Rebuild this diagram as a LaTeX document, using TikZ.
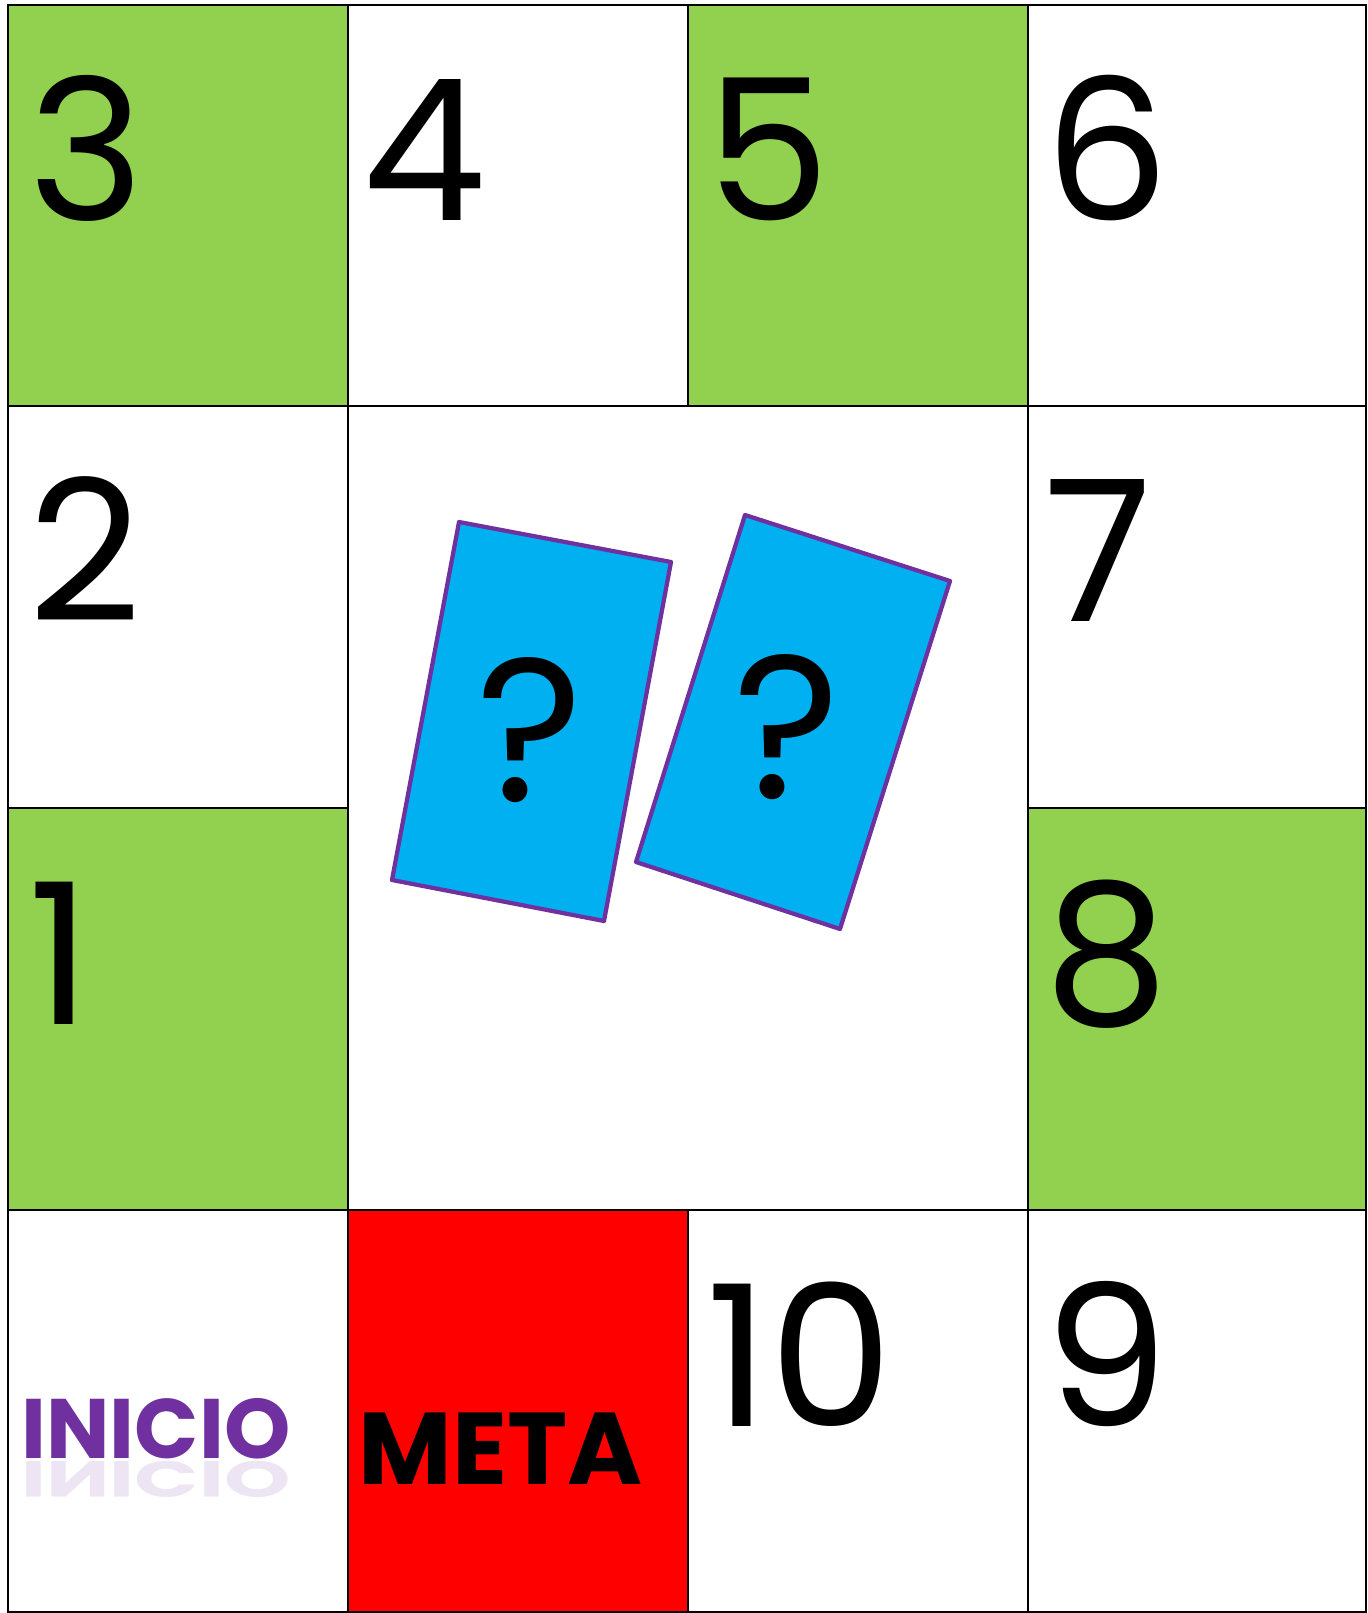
\documentclass[tikz,border=0pt]{standalone}
\usepackage{fontspec}
\setmainfont{Poppins}
\definecolor{verde}{HTML}{92D050}
\definecolor{rojo}{HTML}{FF0000}
\definecolor{celeste}{HTML}{00B0F0}
\definecolor{morado}{HTML}{7030A0}
\tikzset{
  cell/.style={draw=black, line width=0.7pt},
  num/.style={anchor=base west, inner sep=0pt, font=\fontsize{56}{56}\selectfont},
  card/.style={draw=morado, fill=celeste, line width=1.2pt, line join=round},
  quest/.style={inner sep=0pt, font=\fontsize{58}{58}\selectfont}
}
\begin{document}
\begin{tikzpicture}[x=0.01cm, y=-0.01cm]
	\useasboundingbox (0,0) rectangle (1367,1613);
	% row 1
	\draw[cell, fill=verde] (8,5) rectangle (348,406);
	\draw[cell, fill=white] (348,5) rectangle (688,406);
	\draw[cell, fill=verde] (688,5) rectangle (1028,406);
	\draw[cell, fill=white] (1028,5) rectangle (1366,406);
	% rows 2 and 3
	\draw[cell, fill=white] (8,406) rectangle (348,808);
	\draw[cell, fill=white] (348,406) rectangle (1028,1210);
	\draw[cell, fill=white] (1028,406) rectangle (1366,808);
	\draw[cell, fill=verde] (8,808) rectangle (348,1210);
	\draw[cell, fill=verde] (1028,808) rectangle (1366,1210);
	% row 4
	\draw[cell, fill=white] (8,1210) rectangle (348,1612);
	\draw[cell, fill=rojo] (348,1210) rectangle (688,1612);
	\draw[cell, fill=white] (688,1210) rectangle (1028,1612);
	\draw[cell, fill=white] (1028,1210) rectangle (1366,1612);
	% numbers
	\node[num] (n3) at (28,221) {3};
	\node[num] (n4) at (362,221) {4};
	\node[num] (n5) at (706,221) {5};
	\node[num] (n6) at (1044,221) {6};
	\node[num] (n2) at (28,622) {2};
	\node[num] (n7) at (1044,622) {7};
	\node[num] (n1) at (28,1024) {1};
	\node[num] (n8) at (1044,1024) {8};
	\node[num] (n10) at (706,1426) {10};
	\node[num] (n9) at (1044,1426) {9};
	% start and goal
	\node[anchor=base, inner sep=0pt, text=morado, font=\fontsize{24}{24}\selectfont\bfseries] (inicio) at (156,1458) {INICIO};
	\node[anchor=base, inner sep=0pt, text=morado, opacity=0.12, transform shape, yscale=-0.6, font=\fontsize{24}{24}\selectfont\bfseries] (inicioref) at (156,1461) {INICIO};
	\node[anchor=base, inner sep=0pt, font=\fontsize{29}{29}\selectfont\bfseries] (meta) at (501,1484) {META};
	% cards
	\draw[card] (459,522) -- (671,562) -- (604,921) -- (392,880) -- cycle;
	\draw[card] (745,515) -- (950,581) -- (840,929) -- (636,862) -- cycle;
	\node[quest] (q1) at (530,730) {?};
	\node[quest] (q2) at (787,727) {?};
\end{tikzpicture}
\end{document}
